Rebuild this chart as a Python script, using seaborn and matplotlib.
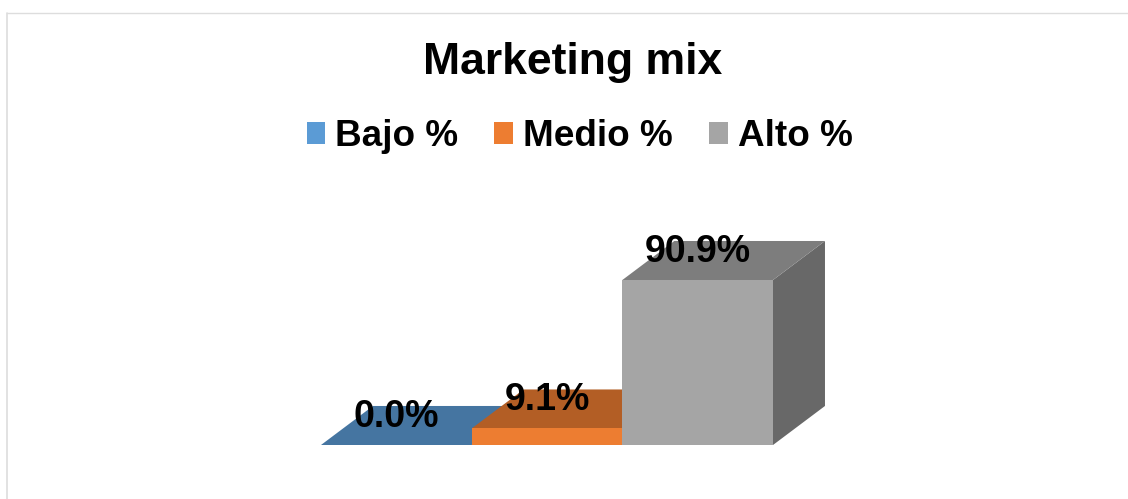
import matplotlib
matplotlib.use("Agg")
import matplotlib.pyplot as plt
from matplotlib.colors import to_rgb
from matplotlib.lines import Line2D
from matplotlib.patches import Patch, Polygon
import seaborn as sns

levels = ["Bajo %", "Medio %", "Alto %"]
shares = [0.0, 9.1, 90.9]
colors = ["#5B9BD5", "#ED7D31", "#A5A5A5"]

FIG_W, FIG_H = 1128, 499
TOP_SHADE, SIDE_SHADE = 0.755, 0.63
DEPTH_X, DEPTH_Y = 0.345, 21.5  # box depth, in category and percent units

sns.set_theme(style="white")
plt.rcParams["font.family"] = ["Liberation Sans", "DejaVu Sans"]
plt.rcParams["font.weight"] = "bold"

fig = plt.figure(figsize=(FIG_W / 100, FIG_H / 100), dpi=100, facecolor="white")
ax = fig.add_axes([321 / FIG_W, (FIG_H - 445) / FIG_H, 452 / FIG_W, 181.5 / FIG_H])

sns.barplot(x=levels, y=shares, hue=levels, palette=colors, order=levels,
            hue_order=levels, width=1, dodge=False, saturation=1, legend=False,
            linewidth=0, ax=ax)
ax.set_xlim(-0.5, 2.5)
ax.set_ylim(0, 100)
ax.axis("off")


def shade(color, factor):
    return tuple(c * factor for c in to_rgb(color))


# Extrude each bar into a box, back to front, then put its value above it
bars = [bar for container in ax.containers for bar in container]
for i, (bar, value, color) in enumerate(zip(bars, shares, colors)):
    x0, x1 = bar.get_x(), bar.get_x() + bar.get_width()
    top = [(x0, value), (x1, value), (x1 + DEPTH_X, value + DEPTH_Y), (x0 + DEPTH_X, value + DEPTH_Y)]
    side = [(x1, 0), (x1 + DEPTH_X, DEPTH_Y), (x1 + DEPTH_X, value + DEPTH_Y), (x1, value)]
    bar.set_zorder(3 + 3 * i)
    ax.add_patch(Polygon(side, closed=True, facecolor=shade(color, SIDE_SHADE),
                         edgecolor="none", clip_on=False, zorder=1 + 3 * i))
    ax.add_patch(Polygon(top, closed=True, facecolor=shade(color, TOP_SHADE),
                         edgecolor="none", clip_on=False, zorder=2 + 3 * i))

for bar, value in zip(bars, shares):
    ax.annotate(f"{value:.1f}%", xy=(bar.get_x() + bar.get_width() / 2, value),
                xytext=(0, 20.5), textcoords="offset points", ha="center", va="center",
                fontsize=27, fontweight="bold", color="black", zorder=20,
                annotation_clip=False)

fig.text(572.5 / FIG_W, 1 - 62.5 / FIG_H, "Marketing mix", ha="center", va="center",
         fontsize=32, fontweight="bold", color="black")

handles = [Patch(facecolor=c, edgecolor="none", label=l) for c, l in zip(colors, levels)]
fig.legend(handles=handles, loc="center", bbox_to_anchor=(579.5 / FIG_W, 1 - 136.5 / FIG_H),
           ncol=3, frameon=False, handlelength=0.51, handleheight=0.51,
           handletextpad=0.27, columnspacing=0.97, borderpad=0, borderaxespad=0,
           labelcolor="black",
           prop={"family": "Liberation Sans", "weight": "bold", "size": 26.6})

# Light chart-area border along the top and left edges
frame = "#DDDDDD"
fig.add_artist(Line2D([7 / FIG_W, 7 / FIG_W], [0, 1 - 13 / FIG_H], color=frame, lw=1.2))
fig.add_artist(Line2D([7 / FIG_W, 1], [1 - 13 / FIG_H, 1 - 13 / FIG_H], color=frame, lw=1.0))

fig.savefig("out.png", dpi=100, facecolor="white")
